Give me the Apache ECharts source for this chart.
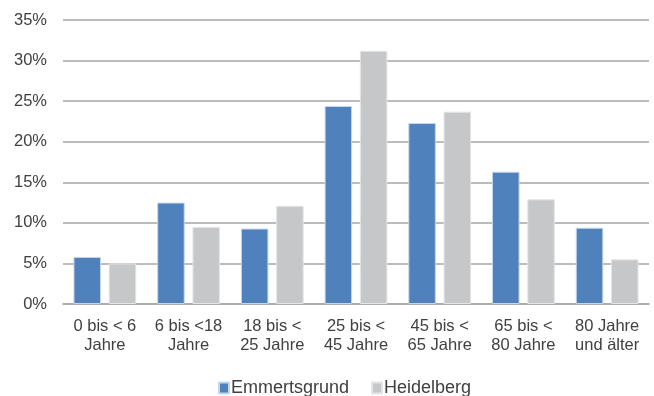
<!DOCTYPE html>
<html><head><meta charset="utf-8">
<script src="https://cdn.jsdelivr.net/npm/echarts@6/dist/echarts.min.js"></script>
<style>html,body{margin:0;padding:0;background:#fff}#c{width:654px;height:396px}</style>
</head><body><div id="c"></div>
<script>
var categories = ['0 bis < 6\nJahre','6 bis <18\nJahre','18 bis <\n25 Jahre','25 bis <\n45 Jahre','45 bis <\n65 Jahre','65 bis <\n80 Jahre','80 Jahre\nund älter'];
var emmertsgrund = [5.8, 12.5, 9.3, 24.4, 22.3, 16.3, 9.4];
var heidelberg = [5.0, 9.5, 12.1, 31.2, 23.7, 12.9, 5.5];
var seriesNames = ['Emmertsgrund','Heidelberg'];
var chart = echarts.init(document.getElementById('c'));
var font = 'Liberation Sans, Arial, sans-serif';
chart.setOption({
  animation:false,
  grid:{left:63,right:5,top:20,bottom:92,containLabel:false},
  legend:{top:374,left:213,itemWidth:10,itemHeight:11,itemGap:22,icon:'rect',
    textStyle:{fontFamily:font,fontSize:18,color:'#404040',padding:[0,0,0,-3]},data:seriesNames},
  xAxis:{type:'category',data:categories,
    axisLine:{lineStyle:{color:'#a6a6a6',width:1.5}},axisTick:{show:false},
    axisLabel:{fontFamily:font,fontSize:16.5,color:'#404040',lineHeight:19,margin:13,interval:0}},
  yAxis:{type:'value',min:0,max:35,interval:5,
    axisLine:{show:false},axisTick:{show:false},
    splitLine:{lineStyle:{color:'#a6a6a6',width:1.5}},
    axisLabel:{fontFamily:font,fontSize:16.5,color:'#404040',margin:16,formatter:'{value}%'}},
  series:[
    {name:seriesNames[0],type:'bar',data:emmertsgrund,barGap:'28%',barCategoryGap:'25%',
      itemStyle:{color:'#4f81bd',borderColor:'#c5d6ea',borderWidth:1}},
    {name:seriesNames[1],type:'bar',data:heidelberg,
      itemStyle:{color:'#c6c7c9',borderColor:'#e4e5e6',borderWidth:1}}
  ]
});
</script></body></html>
